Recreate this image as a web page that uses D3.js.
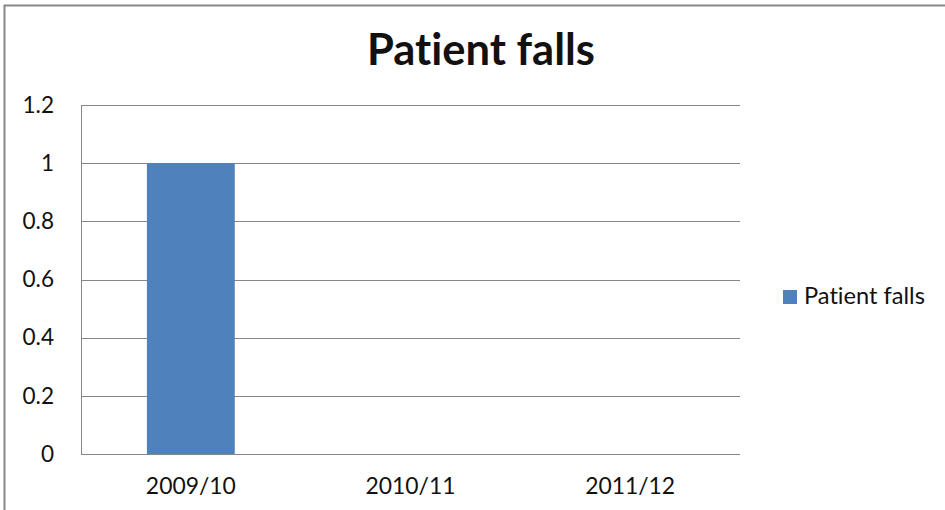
<!DOCTYPE html>
<html>
<head>
<meta charset="utf-8">
<script src="https://cdn.jsdelivr.net/npm/d3@7/dist/d3.min.js"></script>
<style>
  html, body { margin: 0; padding: 0; background: #fff; }
  svg { display: block; }
  text { font-family: Lato, "Liberation Sans", Arial, sans-serif; fill: #111; font-variant-ligatures: none; font-feature-settings: "liga" 0, "clig" 0; }
</style>
</head>
<body>
<svg id="chart" width="945" height="510"></svg>
<script>
const categories = ["2009/10", "2010/11", "2011/12"];
const seriesName = "Patient falls";
const values = [1, 0, 0];
const yTicks = [0, 0.2, 0.4, 0.6, 0.8, 1, 1.2];
const yTickLabels = ["0", "0.2", "0.4", "0.6", "0.8", "1", "1.2"];
const title = "Patient falls";

const FONT = "Lato, 'Liberation Sans', Arial, sans-serif";
const svg = d3.select("#chart");
const W = 945, H = 510;
const plot = { left: 81, right: 740, top: 105, bottom: 454 };

// fit a text element's font size so its width matches a target
function fitSize(sel, target, base) {
  const node = sel.node();
  sel.attr("font-size", base);
  const w = node.getComputedTextLength();
  const s = base * target / w;
  sel.attr("font-size", s);
  return s;
}

// outer chart border
svg.append("rect")
  .attr("x", 4.5).attr("y", 5.5)
  .attr("width", W + 10).attr("height", H + 10)
  .attr("fill", "#fff")
  .attr("stroke", "#878787").attr("stroke-width", 2);

// title
const t = svg.append("text")
  .attr("x", 481).attr("y", 65)
  .attr("text-anchor", "middle")
  .attr("font-family", FONT)
  .attr("font-weight", "bold")
  .attr("fill", "#000")
  .text(title);
fitSize(t, 228, 40);

const x = d3.scaleBand().domain(categories).range([plot.left, plot.right]).paddingInner(0.6).paddingOuter(0.3);
const y = d3.scaleLinear().domain([0, 1.2]).range([plot.bottom, plot.top]);

// measure tick font size
const probe = svg.append("text").attr("font-family", FONT).text("0.6");
const tickSize = fitSize(probe, 31.5, 22);
probe.remove();

// gridlines + y axis
const yAxis = d3.axisLeft(y).tickValues(yTicks)
  .tickFormat((d, i) => yTickLabels[i])
  .tickSize(-(plot.right - plot.left)).tickPadding(27);
const gy = svg.append("g").attr("transform", `translate(${plot.left},0)`).call(yAxis);
gy.select(".domain").attr("stroke", "#868686").attr("shape-rendering", "crispEdges");
gy.selectAll(".tick line").attr("stroke", "#868686").attr("shape-rendering", "crispEdges");
gy.selectAll(".tick text").attr("font-size", tickSize).attr("font-family", FONT).attr("fill", "#111");

// bars
svg.append("g").selectAll("rect").data(categories).join("rect")
  .attr("x", d => x(d))
  .attr("width", x.bandwidth())
  .attr("y", (d, i) => y(values[i]))
  .attr("height", (d, i) => y(0) - y(values[i]))
  .attr("fill", "#4F81BD");

// x axis
const xAxis = d3.axisBottom(x).tickSize(0).tickPadding(24);
const gx = svg.append("g").attr("transform", `translate(0,${plot.bottom})`).call(xAxis);
gx.select(".domain").attr("stroke", "#868686").attr("shape-rendering", "crispEdges")
  .attr("d", `M${plot.left},0H${plot.right}`);
gx.selectAll(".tick text").attr("font-family", FONT).attr("fill", "#111");
gx.selectAll(".tick text").each(function() { fitSize(d3.select(this), 90, 22); });

// legend
const lg = svg.append("g");
lg.append("rect").attr("x", 783).attr("y", 290).attr("width", 14).attr("height", 14).attr("fill", "#4F81BD");
const lt = lg.append("text").attr("x", 804).attr("y", 303.5).attr("font-family", FONT).attr("fill", "#111").text(seriesName);
fitSize(lt, 121, 22);
</script>
</body>
</html>
